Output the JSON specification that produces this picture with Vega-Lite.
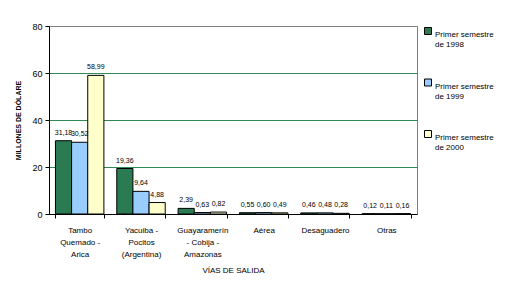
{
  "$schema": "https://vega.github.io/schema/vega-lite/v6.json",
  "width": 368,
  "height": 188,
  "padding": {"left": 14, "top": 22, "right": 5, "bottom": 5},
  "background": "white",
  "config": {
    "font": "Liberation Sans",
    "view": {"stroke": "#808080", "strokeWidth": 1},
    "locale": {"number": {"decimal": ",", "thousands": ".", "grouping": [3], "currency": ["", ""]}}
  },
  "data": {
    "values": [
      {"via": "Tambo Quemado - Arica", "serie": "Primer semestre de 1998", "valor": 31.18},
      {"via": "Tambo Quemado - Arica", "serie": "Primer semestre de 1999", "valor": 30.52},
      {"via": "Tambo Quemado - Arica", "serie": "Primer semestre de 2000", "valor": 58.99},
      {"via": "Yacuiba - Pocitos (Argentina)", "serie": "Primer semestre de 1998", "valor": 19.36},
      {"via": "Yacuiba - Pocitos (Argentina)", "serie": "Primer semestre de 1999", "valor": 9.64},
      {"via": "Yacuiba - Pocitos (Argentina)", "serie": "Primer semestre de 2000", "valor": 4.88},
      {"via": "Guayaramerín - Cobija - Amazonas", "serie": "Primer semestre de 1998", "valor": 2.39},
      {"via": "Guayaramerín - Cobija - Amazonas", "serie": "Primer semestre de 1999", "valor": 0.63},
      {"via": "Guayaramerín - Cobija - Amazonas", "serie": "Primer semestre de 2000", "valor": 0.82},
      {"via": "Aérea", "serie": "Primer semestre de 1998", "valor": 0.55},
      {"via": "Aérea", "serie": "Primer semestre de 1999", "valor": 0.60},
      {"via": "Aérea", "serie": "Primer semestre de 2000", "valor": 0.49},
      {"via": "Desaguadero", "serie": "Primer semestre de 1998", "valor": 0.46},
      {"via": "Desaguadero", "serie": "Primer semestre de 1999", "valor": 0.48},
      {"via": "Desaguadero", "serie": "Primer semestre de 2000", "valor": 0.28},
      {"via": "Otras", "serie": "Primer semestre de 1998", "valor": 0.12},
      {"via": "Otras", "serie": "Primer semestre de 1999", "valor": 0.11},
      {"via": "Otras", "serie": "Primer semestre de 2000", "valor": 0.16}
    ]
  },
  "encoding": {
    "x": {
      "field": "via",
      "type": "nominal",
      "sort": null,
      "scale": {"paddingInner": 0.21, "paddingOuter": 0.105},
      "axis": {
        "title": "VÍAS DE SALIDA",
        "titleFontSize": 8,
        "titleFontWeight": "normal",
        "titleColor": "black",
        "titlePadding": 8,
        "labelAngle": 0,
        "labelFontSize": 8,
        "labelColor": "black",
        "labelPadding": 8,
        "labelLineHeight": 12,
        "labelExpr": "datum.label == 'Tambo Quemado - Arica' ? ['Tambo', 'Quemado -', 'Arica'] : datum.label == 'Yacuiba - Pocitos (Argentina)' ? ['Yacuiba -', 'Pocitos', '(Argentina)'] : datum.label == 'Guayaramerín - Cobija - Amazonas' ? ['Guayaramerín', '- Cobija -', 'Amazonas'] : datum.label",
        "tickBand": "extent",
        "tickColor": "black",
        "tickSize": 4,
        "domainColor": "black"
      }
    },
    "y": {
      "field": "valor",
      "type": "quantitative",
      "scale": {"domain": [0, 80]},
      "axis": {
        "title": "MILLONES DE DÓLARE",
        "titleFontSize": 7,
        "titleFontWeight": "bold",
        "titleColor": "black",
        "titlePadding": 10,
        "values": [0, 20, 40, 60, 80],
        "labelFontSize": 9,
        "labelColor": "black",
        "labelPadding": 3,
        "tickColor": "black",
        "tickSize": 4,
        "domainColor": "black",
        "gridColor": {"condition": {"test": "datum.value == 80", "value": "#808080"}, "value": "#2e8b57"},
        "gridOpacity": 1
      }
    },
    "xOffset": {"field": "serie", "type": "nominal"}
  },
  "layer": [
    {
      "mark": {"type": "bar", "stroke": "black", "strokeWidth": 1},
      "encoding": {
        "color": {
          "field": "serie",
          "type": "nominal",
          "scale": {"range": ["#2a7a52", "#99ccff", "#ffffcc"]},
          "legend": {
            "title": null,
            "orient": "right",
            "offset": 6,
            "symbolType": "square",
            "symbolSize": 49,
            "symbolStrokeColor": "black",
            "symbolStrokeWidth": 1,
            "labelFontSize": 8,
            "labelColor": "black",
            "labelLineHeight": 12,
            "labelBaseline": "top",
            "labelOffset": 3,
            "rowPadding": 27.5,
            "padding": 1,
            "labelExpr": "['Primer semestre', 'de ' + slice(datum.label, -4)]"
          }
        }
      }
    },
    {
      "mark": {"type": "text", "dy": -5, "fontSize": 7, "color": "black", "baseline": "bottom"},
      "encoding": {
        "text": {"field": "valor", "type": "quantitative", "format": ".2f"}
      }
    }
  ]
}
